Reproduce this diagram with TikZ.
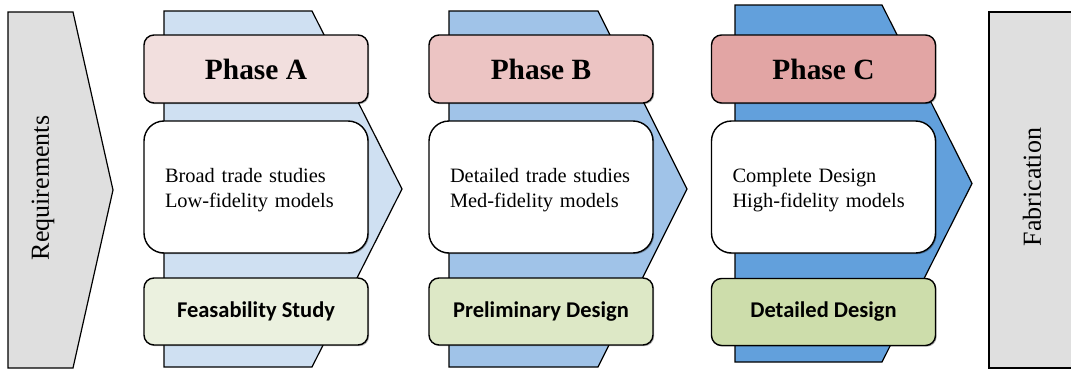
\documentclass[tikz,border=0pt]{standalone}
\usepackage{fontspec}
\setmainfont{Liberation Serif}
\newfontfamily\labelfont{Carlito}
\usetikzlibrary{shadows}

\definecolor{sidegray}{HTML}{DFDFDF}
\definecolor{chevA}{HTML}{CFE0F2}
\definecolor{chevB}{HTML}{A0C3E8}
\definecolor{chevC}{HTML}{62A0DC}
\definecolor{hdrA}{HTML}{F2DFDE}
\definecolor{hdrB}{HTML}{ECC4C3}
\definecolor{hdrC}{HTML}{E2A5A4}
\definecolor{ftrA}{HTML}{EBF1DF}
\definecolor{ftrB}{HTML}{DDE8C6}
\definecolor{ftrC}{HTML}{CDDDAB}

% two unbroken lines of text, set a little lower than the box centre
\newcommand{\twolines}[2]{\rule{0pt}{20.5pt}\mbox{#1}\\\mbox{#2}}

\tikzset{
  boxshadow/.style={drop shadow={shadow xshift=1.2pt, shadow yshift=-1.2pt, opacity=0.3, fill=black}},
  header/.style={draw=black, line width=1.4pt, rounded corners=10pt, boxshadow,
    minimum width=224pt, minimum height=68pt, inner sep=0pt,
    font=\fontsize{29.4}{32}\selectfont\bfseries},
  midbox/.style={draw=black, line width=1.4pt, rounded corners=20pt, boxshadow, fill=white,
    minimum height=132pt, text width=182pt, inner xsep=21pt, inner ysep=0pt, align=left,
    font=\fontsize{20.4}{24.5}\selectfont},
  footer/.style={draw=black, line width=1.4pt, rounded corners=10pt, boxshadow,
    minimum width=224pt, minimum height=67pt, inner sep=0pt,
    font=\labelfont\fontsize{22.5}{26}\selectfont\bfseries},
  chevron/.style={draw=black, line width=1.2pt, line join=miter},
  sidebox/.style={draw=black, line width=1.2pt, fill=sidegray},
  sidetext/.style={rotate=90, inner sep=0pt, font=\fontsize{26}{30}\selectfont},
}

\begin{document}
\begin{tikzpicture}[x=1pt, y=-1pt]
  \useasboundingbox (0,0) rectangle (1071,372);
  \clip (0,0) rectangle (1071,372);

  % incoming requirements arrow
  \draw[sidebox] (8,12) -- (73,12) -- (113,190) -- (73,368) -- (8,368) -- cycle;
  \node[sidetext] (req) at (43,188) {Requirements};

  % outgoing fabrication block (continues past the right edge)
  \fill[sidegray] (989,12) rectangle (1080,368);
  \draw[line width=1.2pt] (1080,12) -- (989,12) -- (989,368) -- (1080,368);
  \node[sidetext] (fab) at (1032,187) {Fabrication};

  % phase chevrons
  \draw[chevron, fill=chevA] (164,11) -- (312,11) -- (402,189) -- (312,367) -- (164,367) -- cycle;
  \draw[chevron, fill=chevB] (449,11) -- (598,11) -- (687,189) -- (598,367) -- (449,367) -- cycle;
  \draw[chevron, fill=chevC] (735,5) -- (882,5) -- (972,183.5) -- (882,362) -- (735,362) -- cycle;

  % Phase A
  \node[header, fill=hdrA] (hA) at (256,69) {Phase A};
  \node[midbox] (mA) at (256,187) {\twolines{Broad trade studies}{Low-fidelity models}};
  \node[footer, fill=ftrA] (fA) at (256,311.5) {Feasability Study};

  % Phase B
  \node[header, fill=hdrB] (hB) at (541,69) {Phase B};
  \node[midbox] (mB) at (541,187) {\twolines{Detailed trade studies}{Med-fidelity models}};
  \node[footer, fill=ftrB] (fB) at (541,311.5) {Preliminary Design};

  % Phase C
  \node[header, fill=hdrC] (hC) at (823.5,69) {Phase C};
  \node[midbox] (mC) at (823.5,187) {\twolines{Complete Design}{High-fidelity models}};
  \node[footer, fill=ftrC] (fC) at (823.5,312) {Detailed Design};
\end{tikzpicture}
\end{document}
